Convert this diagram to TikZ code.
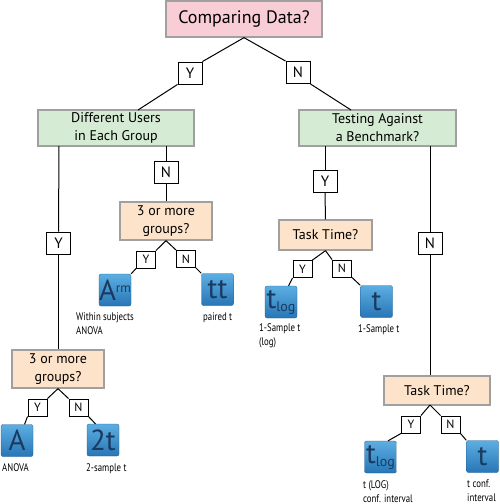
\documentclass[tikz,border=0pt]{standalone}
\usepackage{fontspec}
\setmainfont{PT Sans}
\newfontfamily\condfont{PT Sans}[FakeStretch=0.8]
\usepackage{tikz}

\definecolor{rootpink}{RGB}{249,205,214}
\definecolor{qgreen}{RGB}{213,235,211}
\definecolor{qpeach}{RGB}{253,227,201}
\definecolor{boxgray}{RGB}{160,160,160}
\definecolor{icontop}{RGB}{92,174,226}
\definecolor{iconbot}{RGB}{40,118,182}
\definecolor{icontext}{RGB}{26,58,96}

\tikzset{
  qbox/.style={draw=boxgray, line width=1.3pt, inner sep=0pt, align=center},
  yn/.style={draw=black, fill=white, line width=0.9pt, inner sep=0pt, minimum width=24pt, minimum height=22pt, font=\fontsize{15}{15}\selectfont},
  ynsmall/.style={yn, minimum width=19pt, minimum height=17pt, font=\fontsize{12}{12}\selectfont},
  icon/.style={rounded corners=2pt, top color=icontop, bottom color=iconbot, draw=iconbot!80!black, line width=0.3pt,
    minimum width=32pt, minimum height=32pt, inner sep=0pt, text=icontext, font=\fontsize{29}{29}\selectfont},
  caption/.style={anchor=north west, inner sep=0pt, align=left, font=\condfont\fontsize{11}{14}\selectfont},
  edge/.style={draw=black, line width=1pt}
}

\begin{document}
\begin{tikzpicture}[x=1pt,y=-1pt]
\useasboundingbox (0,0) rectangle (500,504);

% Question boxes
\node (root) at (244,19) [qbox, fill=rootpink, minimum width=156pt, minimum height=36pt, font=\fontsize{18}{20}\selectfont] {Comparing Data?};
\node (diff) at (116,128) [qbox, fill=qgreen, minimum width=156pt, minimum height=36pt, font=\fontsize{14}{18}\selectfont] {Different Users\\in Each Group};
\node (bench) at (377.5,128) [qbox, fill=qgreen, minimum width=157pt, minimum height=36pt, font=\fontsize{14}{18}\selectfont] {Testing Against\\a Benchmark?};
\node (grpA) at (166,221) [qbox, fill=qpeach, minimum width=92pt, minimum height=38pt, font=\fontsize{14}{18}\selectfont] {3 or more\\groups?};
\node (grpB) at (58,369) [qbox, fill=qpeach, minimum width=92pt, minimum height=38pt, font=\fontsize{14}{18}\selectfont] {3 or more\\groups?};
\node (taskA) at (325.5,235) [qbox, fill=qpeach, minimum width=93pt, minimum height=30pt, font=\fontsize{14}{18}\selectfont] {Task Time?};
\node (taskB) at (437,390.5) [qbox, fill=qpeach, minimum width=106pt, minimum height=29pt, font=\fontsize{14}{18}\selectfont] {Task Time?};

% Y/N boxes
\node (y1) at (190,73) [yn] {Y};
\node (n1) at (298,72.5) [yn] {N};
\node (n2) at (166,172.5) [yn] {N};
\node (y2) at (58.5,243) [yn] {Y};
\node (y3) at (325,181.5) [yn] {Y};
\node (n3) at (430,243) [yn] {N};
\node (y4) at (146,259.5) [ynsmall] {Y};
\node (n4) at (186,259) [ynsmall] {N};
\node (y5) at (37.5,407.5) [ynsmall] {Y};
\node (n5) at (78.5,407.5) [ynsmall] {N};
\node (y6) at (302.5,269) [ynsmall] {Y};
\node (n6) at (342,268.5) [ynsmall] {N};
\node (y7) at (411,424.5) [ynsmall] {Y};
\node (n7) at (450.5,424.5) [ynsmall] {N};

% Test icons
\node (iArm) at (115,290) [icon] {A\raisebox{8pt}{\fontsize{13}{13}\selectfont rm}};
\node (iTT) at (217.5,289.5) [icon] {tt};
\node (iA) at (17,440.5) [icon] {A};
\node (i2t) at (103,440) [icon] {2t};
\node (iTlogA) at (281,302) [icon] {t\raisebox{-3pt}{\fontsize{14}{14}\selectfont log}};
\node (iTA) at (376.5,301.5) [icon] {t};
\node (iTlogB) at (380.5,457) [icon] {t\raisebox{-3pt}{\fontsize{14}{14}\selectfont log}};
\node (iTB) at (482.5,456.5) [icon] {t};

% Captions
\node (cArm) at (76,313) [caption] {Within subjects\\ANOVA};
\node (cTT) at (203,313) [caption] {paired t};
\node (cA) at (2,463) [caption] {ANOVA};
\node (c2t) at (86,463) [caption] {2-sample t};
\node (cTlogA) at (259,323) [caption] {1-Sample t\\(log)};
\node (cTA) at (358,324) [caption] {1-Sample t};
\node (cTlogB) at (363,480) [caption] {t (LOG)\\conf. interval};
\node (cTB) at (467,480) [caption] {t conf.\\interval};

% Fixed points on the box edges
\coordinate (dTop) at (138,110);
\coordinate (bTop) at (351,110);
\coordinate (dLeft) at (59,146);
\coordinate (dRight) at (166,146);
\coordinate (bLeft) at (325,146);
\coordinate (bRight) at (430,146);

% Connectors
\draw[edge] (root.south) -- (y1.north east);
\draw[edge] (y1.south west) -- (dTop);
\draw[edge] (root.south) -- (n1.north west);
\draw[edge] (n1.south east) -- (bTop);

\draw[edge] (dLeft) -- (y2.north);
\draw[edge] (y2.south) -- (y2.south |- grpB.north);
\draw[edge] (dRight) -- (n2.north);
\draw[edge] (n2.south) -- (grpA.north);
\draw[edge] (bLeft) -- (y3.north);
\draw[edge] (y3.south) -- (taskA.north);
\draw[edge] (bRight) -- (n3.north);
\draw[edge] (n3.south) -- (n3.south |- taskB.north);

\draw[edge] (grpA.south) -- (y4.north east);
\draw[edge] (y4.south west) -- (iArm.north east);
\draw[edge] (grpA.south) -- (n4.north west);
\draw[edge] (n4.south east) -- (iTT.north west);

\draw[edge] (grpB.south) -- (y5.north east);
\draw[edge] (y5.south west) -- (iA.65);
\draw[edge] (grpB.south) -- (n5.north west);
\draw[edge] (n5.south east) -- (i2t.115);

\draw[edge] (taskA.south) -- (y6.north east);
\draw[edge] (y6.south west) -- (iTlogA.65);
\draw[edge] (taskA.south) -- (n6.north west);
\draw[edge] (n6.south east) -- (iTA.north west);

\coordinate (tBot) at (430,405);
\draw[edge] (tBot) -- (y7.north east);
\draw[edge] (y7.south west) -- (iTlogB.65);
\draw[edge] (tBot) -- (n7.north west);
\draw[edge] (n7.south east) -- (iTB.north west);

\end{tikzpicture}
\end{document}
